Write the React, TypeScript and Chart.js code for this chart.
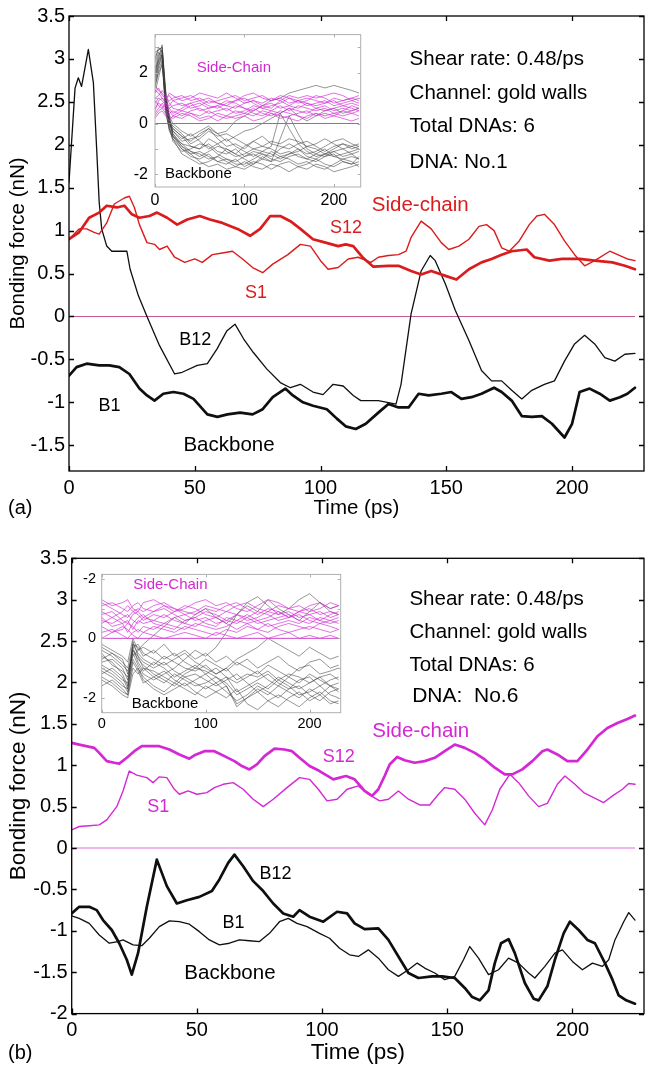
import React, { useEffect, useRef } from "react";
import { Chart, registerables } from "chart.js";
Chart.register(...registerables);

const FONT = "'Liberation Sans', Arial, Helvetica, sans-serif";

// ---------------- Panel (a) main series ----------------
const aS12T = [0,4,8,12,15,19,22,25,28,32,35,39,43,47,52,56,61,67,72,76,80,84,88,92,97,102,107,110,113,117,121,127,131,136,140,144,150,154,159,164,168,172,176,182,185,191,196,203,209,216,221,225];
const aS12V = [0.90,0.98,1.15,1.21,1.29,1.27,1.29,1.19,1.15,1.17,1.21,1.15,1.07,1.13,1.17,1.13,1.09,1.02,0.94,1.02,1.17,1.17,1.11,1.02,0.90,0.86,0.82,0.84,0.82,0.68,0.58,0.59,0.59,0.53,0.49,0.53,0.47,0.43,0.55,0.63,0.67,0.72,0.76,0.78,0.69,0.65,0.67,0.67,0.65,0.63,0.59,0.55];
const aS1T = [0,4,7,10,12,15,18,22,24,26,28,31,34,36,39,42,46,50,53,57,61,65,69,73,77,81,87,92,96,100,103,107,111,115,120,123,127,131,134,136,140,144,148,151,155,159,163,166,169,172,175,179,183,186,189,193,197,201,205,209,215,219,222,225];
const aS1V = [0.90,1.02,1.02,0.98,0.96,1.09,1.31,1.38,1.40,1.27,1.07,0.86,0.84,0.78,0.82,0.69,0.63,0.67,0.63,0.72,0.74,0.76,0.67,0.57,0.51,0.61,0.72,0.84,0.82,0.65,0.55,0.57,0.67,0.69,0.63,0.69,0.71,0.72,0.76,0.92,1.11,1.02,0.86,0.78,0.82,0.90,1.05,1.07,1.00,0.80,0.76,0.88,1.07,1.17,1.19,1.07,0.88,0.72,0.59,0.65,0.76,0.71,0.67,0.65];
const aB12T = [0,2.4,3.7,5,7.7,9.7,11,12,13,15,17,23,24.3,27.6,31,36,42,45,51,55,58.8,62.7,66,69.4,73.3,78.6,84,88,92,97,101,105,109,113,116,123,130,132,136,140,143.6,145.6,149.6,153.6,159,164,168,172,176,180,184,189,193,197,201,205,209,213,217,221,225];
const aB12V = [1.56,2.66,2.78,2.68,3.11,2.72,1.95,1.33,1.02,0.82,0.76,0.76,0.55,0.24,0.0,-0.34,-0.67,-0.65,-0.57,-0.55,-0.38,-0.17,-0.09,-0.26,-0.42,-0.61,-0.77,-0.83,-0.79,-0.88,-0.91,-0.79,-0.81,-0.92,-0.98,-0.98,-1.02,-0.79,0.03,0.53,0.71,0.65,0.38,0.07,-0.28,-0.63,-0.75,-0.75,-0.86,-0.96,-0.86,-0.79,-0.75,-0.52,-0.32,-0.22,-0.32,-0.48,-0.52,-0.44,-0.43];
const aB1T = [0,3,7,12,16,20,24,28,31,34,37.5,41.5,45.5,49.5,55,59,63,68,73,77,81,86,89,93,97,102.5,106.5,110,114,118,123,127,131,135,139,143,148,152,156,160,164,169,172,176,180,184,188,192,197,200,203,207,211,215,219,222,225];
const aB1V = [-0.69,-0.59,-0.55,-0.57,-0.57,-0.59,-0.67,-0.84,-0.92,-0.98,-0.90,-0.88,-0.90,-0.96,-1.14,-1.17,-1.14,-1.12,-1.14,-1.08,-0.94,-0.84,-0.92,-1.00,-1.04,-1.08,-1.19,-1.28,-1.31,-1.25,-1.12,-1.02,-1.06,-1.06,-0.90,-0.92,-0.90,-0.88,-0.96,-0.94,-0.90,-0.83,-0.88,-0.98,-1.16,-1.17,-1.16,-1.25,-1.41,-1.25,-0.88,-0.84,-0.90,-0.98,-0.94,-0.90,-0.83];

// ---------------- Panel (b) main series ----------------
const bS12T = [0,3,9,11,14,17,19,22,25,28,31,35,39,43,47,49,53,57,61,65,68,71,74,77,81,85,88,91,95,99,104.5,109.5,113,117,120,122.5,125,127,130,133,137,141,145,149,153,157,161,165,169,173,176,180,184,188,190,194,198,202,206,210,214,218,222,225];
const bS12V = [1.27,1.25,1.21,1.15,1.05,1.03,1.02,1.09,1.17,1.23,1.23,1.23,1.19,1.13,1.08,1.12,1.17,1.17,1.11,1.05,0.99,0.95,1.01,1.11,1.20,1.19,1.17,1.09,0.99,0.93,0.83,0.87,0.83,0.69,0.63,0.71,0.87,1.01,1.10,1.06,1.03,1.05,1.09,1.17,1.25,1.21,1.15,1.07,0.97,0.89,0.89,0.95,1.05,1.17,1.19,1.13,1.05,1.05,1.19,1.35,1.45,1.51,1.56,1.60];
const bS1T = [0,3,7,11,14,18,20.5,23,26,30,32.5,35,38,41,43,46.5,50,54,57,60.5,64.5,68.5,72.5,76.5,80.5,86,91,95,98.5,102,106,110,114.5,118.5,123,126.5,130.5,134.5,139,143,146.5,149,153,157,161,165,168,171,175,178.5,182.5,186.5,190,194,197,201,204.5,208.5,212.5,216,220,222.5,225];
const bS1V = [0.22,0.26,0.27,0.28,0.34,0.50,0.69,0.93,0.88,0.85,0.79,0.86,0.85,0.71,0.65,0.69,0.65,0.67,0.73,0.77,0.79,0.71,0.59,0.50,0.59,0.73,0.85,0.83,0.71,0.57,0.59,0.71,0.75,0.65,0.57,0.59,0.69,0.59,0.52,0.52,0.65,0.73,0.71,0.59,0.42,0.28,0.46,0.71,0.89,0.79,0.63,0.50,0.54,0.77,0.87,0.77,0.67,0.61,0.55,0.63,0.71,0.78,0.77];
const bB12T = [0,3,7,10,12.5,16,19,22,24,26.5,30,34,38,42,46,51,56,59,62.5,65,68.5,72.5,76.5,80.5,84.5,88.5,91,95,100.5,106,110,113,117,122.5,126.5,130.5,134.5,138.5,144,148,153,157,160,163,166.5,169,171.5,174.5,177,181,184.5,186.5,190,193,196.5,199,202.5,206,209,213,216,218.5,221.5,225];
const bB12V = [-0.79,-0.71,-0.71,-0.75,-0.87,-0.99,-1.15,-1.35,-1.53,-1.27,-0.71,-0.14,-0.46,-0.67,-0.63,-0.59,-0.52,-0.38,-0.18,-0.08,-0.22,-0.40,-0.52,-0.67,-0.79,-0.83,-0.75,-0.83,-0.89,-0.77,-0.79,-0.91,-0.98,-0.97,-1.11,-1.31,-1.51,-1.57,-1.55,-1.55,-1.57,-1.69,-1.80,-1.84,-1.72,-1.39,-1.15,-1.10,-1.27,-1.63,-1.82,-1.84,-1.67,-1.35,-1.03,-0.89,-0.99,-1.11,-1.15,-1.39,-1.59,-1.78,-1.84,-1.88];
const bB1T = [0,3,7,11,15,18.5,20.5,24.5,28,31,35,39,43,47,51,55,59,63,67,71,75,79,83,86.5,90,94,99,103,107,111,114.5,118.5,122.5,126.5,130.5,134.5,138,141,145,149,153,156.5,159,162.5,166.5,170.5,174.5,178.5,182.5,185,189,193,196,200,204,208,212,214.5,217,220.5,222.5,225];
const bB1V = [-0.82,-0.85,-0.91,-1.05,-1.15,-1.13,-1.11,-1.17,-1.18,-1.09,-0.95,-0.88,-0.89,-0.92,-1.01,-1.11,-1.17,-1.15,-1.11,-1.12,-1.13,-1.03,-0.89,-0.85,-0.91,-0.95,-1.03,-1.09,-1.21,-1.29,-1.31,-1.23,-1.33,-1.47,-1.55,-1.47,-1.39,-1.45,-1.51,-1.59,-1.55,-1.35,-1.19,-1.33,-1.53,-1.47,-1.33,-1.39,-1.51,-1.57,-1.43,-1.27,-1.23,-1.37,-1.47,-1.39,-1.43,-1.35,-1.11,-0.89,-0.78,-0.87];

const zeroT = [0, 225];
const zeroV = [0, 0];

// ---------------- Axes ticks ----------------
const mainXTicks = [0, 50, 100, 150, 200];
const aYTicks = [-1.5, -1, -0.5, 0, 0.5, 1, 1.5, 2, 2.5, 3, 3.5];
const bYTicks = [-2, -1.5, -1, -0.5, 0, 0.5, 1, 1.5, 2, 2.5, 3, 3.5];
const insetXTicks = [0, 100, 200];
const insetAYTicks = [-2, 0, 2];
const insetAYLabels = ["-2", "0", "2"];
const insetAYMarks = [-2, -1, 0, 1, 2, 3];
const insetBYTicks = [-2, 0, 2];
const insetBYLabels = ["-2", "0", "-2"];
const insetBYMarks = [-2, -1, 0, 1, 2];

// ---------------- Inset (a) trajectories ----------------
const insetAT = [0,4,8,12,16,20,30,40,50,60,70,80,90,100,110,120,130,140,150,160,170,180,190,200,210,220,228];
const insetABackbone = [
  [2.0,2.6,3.1,0.8,0.0,-0.4,-0.8,-0.9,-1.0,-0.8,-1.1,-1.2,-1.0,-1.3,-1.2,-1.4,-1.1,-1.3,-1.2,-1.0,-1.3,-1.4,-1.2,-1.1,-1.3,-1.2,-1.4],
  [1.6,2.2,2.8,1.0,0.2,-0.2,-0.5,-0.7,-0.4,-0.2,-0.6,-0.9,-0.8,-1.0,-0.7,-0.5,-0.8,-0.9,-1.0,-0.8,-0.7,-0.9,-1.1,-0.9,-0.8,-1.0,-0.9],
  [2.4,2.8,2.6,0.5,-0.3,-0.6,-1.0,-1.3,-1.4,-1.2,-1.5,-1.6,-1.4,-1.7,-1.5,-1.6,-1.8,-1.6,-1.5,-1.7,-1.6,-1.4,-1.6,-1.7,-1.5,-1.6,-1.5],
  [1.2,1.8,2.4,0.9,0.3,0.0,-0.3,-0.5,-0.3,-0.1,-0.4,-0.3,0.1,0.3,0.5,0.7,0.9,1.0,1.2,1.3,1.4,1.5,1.4,1.5,1.4,1.3,1.2],
  [2.8,2.9,3.0,1.2,0.1,-0.5,-0.9,-1.1,-1.2,-1.4,-1.3,-1.0,-1.2,-1.4,-1.6,-1.3,-1.5,-0.6,0.3,-0.4,-1.0,-1.2,-1.3,-1.1,-1.0,-1.2,-1.1],
  [1.9,2.5,2.7,0.6,-0.1,-0.7,-1.1,-1.0,-0.8,-0.9,-1.2,-1.4,-1.5,-1.3,-1.1,-1.2,-1.3,-1.0,-0.8,-1.0,-1.2,-1.1,-0.9,-0.7,-0.6,-0.8,-0.9],
  [1.4,2.1,2.5,0.7,0.0,-0.3,-0.6,-0.4,-0.7,-1.0,-0.8,-0.6,-0.9,-1.1,-1.3,-1.1,-0.9,0.4,-0.2,-0.8,-1.1,-1.3,-1.2,-1.0,-0.8,-0.9,-1.0],
  [2.2,2.7,2.9,1.1,0.2,-0.4,-0.9,-1.2,-1.5,-1.7,-1.6,-1.8,-1.7,-1.5,-1.7,-1.8,-1.6,-1.7,-1.9,-1.7,-1.8,-1.6,-1.7,-1.9,-1.8,-1.7,-1.6],
  [1.7,2.3,2.6,0.4,-0.2,-0.5,-0.8,-1.1,-1.3,-1.1,-0.9,-1.0,-1.2,-0.9,-0.7,-0.9,-1.0,-1.2,-1.1,-1.3,-1.4,-1.2,-1.0,-1.3,-1.2,-1.1,-1.0],
  [2.5,3.0,2.8,0.9,0.1,-0.3,-0.7,-0.6,-0.5,-0.2,-0.4,-0.7,-0.5,-0.3,-0.2,0.0,0.2,0.4,0.6,0.3,0.1,0.3,0.5,0.6,0.4,0.5,0.6],
  [1.5,2.0,2.3,0.6,-0.2,-0.6,-1.2,-1.4,-1.6,-1.5,-1.3,-1.5,-1.7,-1.8,-1.6,-1.4,-1.5,-1.3,-1.4,-1.6,-1.5,-1.7,-1.8,-1.6,-1.4,-1.5,-1.7],
  [2.1,2.5,2.9,1.0,0.0,-0.2,-0.5,-0.9,-1.0,-0.6,-0.8,-1.1,-1.3,-1.2,-1.0,-1.1,-1.2,-1.4,-1.2,-1.1,-0.9,-1.0,-1.2,-1.3,-1.4,-1.3,-1.4],
  [1.8,2.4,2.7,0.7,0.1,-0.1,-0.4,-0.8,-0.6,-0.3,-0.5,-0.4,-0.6,-0.8,-1.0,-0.9,-0.7,-0.8,-0.6,-0.7,-0.9,-0.8,-0.6,-0.8,-1.0,-0.9,-0.8],
  [2.6,2.9,3.0,1.3,0.3,-0.5,-1.0,-1.2,-1.1,-1.3,-1.5,-1.4,-1.6,-1.6,-1.4,-1.2,-1.4,-1.5,-1.3,-1.2,-1.4,-1.5,-1.3,-1.2,-1.5,-1.6,-1.3],
];
const insetASideChain = [
  [0.8,1.0,0.9,0.7,0.6,0.7,0.8,0.6,0.7,0.9,0.8,0.7,0.6,0.8,0.9,0.7,0.8,0.6,0.7,0.9,0.8,0.7,0.8,0.9,0.7,0.8,0.7],
  [0.3,0.5,0.6,0.4,0.3,0.2,0.4,0.3,0.1,0.2,0.4,0.3,0.2,0.3,0.1,0.2,0.4,0.3,0.2,0.1,0.3,0.4,0.2,0.3,0.2,0.1,0.2],
  [1.2,1.4,1.1,1.0,0.9,1.0,1.1,0.9,1.0,0.8,0.9,1.0,1.1,0.9,1.0,1.1,0.9,1.0,0.8,0.9,1.0,0.9,0.8,1.0,0.9,1.0,0.9],
  [0.6,0.8,0.7,0.5,0.4,0.5,0.3,0.5,0.6,0.4,0.5,0.6,0.4,0.5,0.7,0.6,0.5,0.4,0.6,0.5,0.4,0.6,0.7,0.5,0.6,0.5,0.6],
  [1.5,1.3,1.2,1.0,1.1,0.9,0.7,0.8,0.9,1.0,0.8,0.7,0.9,1.0,0.8,0.6,0.7,0.8,1.0,0.9,0.7,0.8,0.9,0.7,0.8,0.9,0.8],
  [0.4,0.6,0.8,0.6,0.5,0.3,0.2,0.4,0.3,0.5,0.3,0.2,0.3,0.4,0.3,0.5,0.4,0.2,0.3,0.4,0.5,0.3,0.4,0.3,0.5,0.4,0.3],
  [1.0,1.1,1.3,1.1,0.8,0.6,0.5,0.7,0.8,0.6,0.7,0.9,0.8,0.6,0.5,0.7,0.6,0.9,0.7,0.6,0.8,0.6,0.5,0.6,0.7,0.6,0.5],
  [0.2,0.4,0.5,0.3,0.1,0.3,0.5,0.4,0.2,0.3,0.1,0.3,0.5,0.4,0.6,0.4,0.3,0.5,0.4,0.3,0.2,0.4,0.3,0.4,0.3,0.4,0.5],
  [0.9,0.7,0.6,0.8,0.7,0.9,1.0,1.1,0.9,0.7,0.6,0.8,0.9,1.1,1.2,1.0,0.9,1.1,1.0,0.8,0.9,1.1,1.0,0.8,0.9,1.0,1.1],
  [0.5,0.9,1.0,0.8,0.6,0.4,0.6,0.8,0.5,0.6,0.7,0.5,0.7,0.6,0.4,0.3,0.5,0.7,0.5,0.7,0.6,0.5,0.6,0.4,0.5,0.7,0.6],
  [1.3,1.2,1.0,0.9,1.2,1.1,0.9,1.0,1.2,1.1,1.0,1.2,1.0,0.8,0.9,0.8,1.0,0.9,1.1,1.0,1.1,1.0,1.1,1.2,1.1,0.9,1.0],
];

// ---------------- Inset (b) trajectories ----------------
const insetBT = [0,10,20,25,30,35,40,50,60,70,80,90,100,110,120,130,140,150,160,170,180,190,200,210,220,228];
const insetBBackbone = [
  [-0.6,-0.8,-1.2,-1.6,-0.2,-0.5,-0.7,-0.9,-0.6,-0.8,-1.0,-1.1,-0.9,-1.2,-1.0,-1.4,-1.2,-1.3,-1.1,-1.4,-1.2,-1.3,-1.5,-1.3,-1.2,-1.4],
  [-1.0,-1.2,-1.5,-1.8,-0.1,-0.6,-1.0,-1.3,-1.5,-1.2,-1.4,-1.6,-1.5,-1.3,-1.6,-2.3,-2.0,-1.7,-1.9,-1.6,-1.8,-2.0,-1.7,-1.9,-1.6,-1.8],
  [-0.4,-0.6,-0.9,-1.1,-0.6,-0.4,-0.3,-0.5,-0.2,-0.6,-0.4,-0.7,-0.5,-0.8,-0.6,-0.9,-0.7,-1.0,-0.8,-0.6,-0.9,-1.1,-0.8,-0.7,-1.0,-0.9],
  [-1.4,-1.6,-1.9,-2.0,-1.2,-1.0,-1.3,-1.6,-1.8,-1.5,-1.7,-1.9,-1.6,-1.8,-2.0,-1.7,-2.2,-2.4,-2.1,-1.9,-2.1,-2.3,-2.0,-1.8,-2.1,-2.2],
  [-0.8,-0.7,-1.0,-1.4,-0.3,-0.8,-1.1,-0.8,-1.0,-1.3,-1.1,-0.9,-1.2,-1.0,-1.3,-1.5,-1.3,-1.1,-1.4,-1.6,-1.3,-1.5,-1.2,-1.4,-1.6,-1.5],
  [-1.2,-1.0,-1.3,-1.7,-0.5,-0.9,-1.2,-1.4,-1.2,-1.0,-0.7,-0.4,-0.6,-0.3,0.2,0.8,1.2,1.4,1.1,0.8,1.0,1.3,1.5,1.2,1.0,1.1],
  [-0.5,-0.9,-1.1,-1.3,-0.4,-0.7,-0.9,-1.2,-1.4,-1.6,-1.3,-1.5,-1.7,-1.5,-1.8,-2.1,-1.9,-1.6,-1.8,-2.0,-1.7,-1.6,-1.9,-2.1,-1.8,-1.7],
  [-1.6,-1.4,-1.7,-1.9,-0.8,-1.1,-1.5,-1.3,-1.1,-1.4,-1.6,-1.4,-1.2,-1.5,-1.3,-1.8,-1.6,-1.4,-1.2,-1.5,-1.7,-1.4,-1.3,-1.6,-1.4,-1.3],
  [-0.3,-0.5,-0.8,-1.0,-0.2,-0.3,-0.6,-0.4,-0.7,-0.5,-0.8,-1.0,-0.7,-0.9,-1.1,-0.8,-1.0,-1.2,-0.9,-1.1,-1.3,-1.0,-0.9,-1.2,-1.1,-1.0],
  [-0.9,-1.1,-1.4,-1.5,-0.4,-0.6,-0.8,-1.0,-0.8,-1.1,-1.3,-1.2,-1.4,-1.6,-1.4,-1.2,-1.5,-1.8,-1.6,-1.3,-1.5,-1.7,-1.5,-1.3,-1.6,-1.7],
  [-1.1,-1.3,-1.6,-1.7,-0.7,-1.0,-1.4,-1.7,-1.9,-1.7,-1.5,-1.8,-2.0,-1.8,-1.6,-2.2,-2.0,-1.8,-2.1,-2.3,-2.0,-1.8,-2.1,-1.9,-2.2,-2.1],
  [-0.7,-0.5,-0.7,-1.2,-0.3,-0.2,-0.5,-0.7,-0.9,-0.7,-0.5,-0.8,-1.0,-1.2,-1.0,-0.7,-0.5,-0.3,0.0,-0.2,-0.4,-0.6,-0.3,-0.5,-0.7,-0.6],
  [-1.3,-1.5,-1.8,-1.9,-1.0,-1.2,-1.0,-1.1,-1.3,-1.5,-1.2,-1.0,-1.1,-1.3,-1.5,-1.9,-1.7,-1.5,-1.7,-1.4,-1.6,-1.9,-1.8,-1.6,-1.9,-2.0],
  [-0.2,-0.4,-0.6,-0.8,0.0,-0.4,-0.2,0.1,0.4,0.7,0.5,0.8,1.0,0.7,0.5,0.8,1.1,0.9,1.3,1.0,0.8,0.6,0.9,1.2,0.9,0.8],
];
const insetBSideChain = [
  [1.1,1.2,1.0,0.9,1.1,1.2,1.0,0.9,1.1,1.0,0.8,0.9,1.1,1.0,0.9,1.1,1.2,1.0,0.9,1.1,1.0,0.9,1.1,1.2,1.0,1.1],
  [0.6,0.5,0.7,0.8,0.6,0.5,0.7,0.6,0.5,0.7,0.8,0.6,0.7,0.5,0.6,0.8,0.7,0.5,0.6,0.7,0.8,0.6,0.5,0.7,0.6,0.7],
  [0.2,0.3,0.1,0.0,0.2,0.3,0.2,0.1,0.0,0.1,0.2,0.1,0.0,0.2,0.1,0.0,0.1,0.2,0.0,0.1,0.2,0.0,0.1,0.0,0.1,0.0],
  [1.3,1.1,1.2,1.3,1.0,0.9,1.2,1.3,1.1,0.9,1.0,1.2,1.3,1.1,1.2,1.0,0.9,1.1,1.3,1.2,1.0,1.1,0.9,1.0,1.2,1.1],
  [0.8,0.9,0.6,0.5,0.8,0.9,0.7,0.9,1.0,0.8,0.6,0.7,0.9,0.8,0.6,0.5,0.7,0.9,0.8,0.6,0.7,0.9,0.8,0.9,0.7,0.8],
  [0.4,0.2,0.3,0.5,0.4,0.2,0.4,0.3,0.5,0.4,0.3,0.5,0.4,0.3,0.4,0.6,0.5,0.3,0.2,0.4,0.5,0.4,0.3,0.5,0.4,0.3],
  [0.9,0.7,0.9,1.1,0.9,0.8,0.6,0.8,0.7,0.9,1.1,1.0,0.8,0.7,0.9,0.8,0.6,0.7,0.9,0.8,0.9,0.7,0.8,0.6,0.8,0.9],
  [0.0,0.2,0.4,0.3,0.1,0.0,0.2,0.4,0.3,0.2,0.4,0.3,0.2,0.1,0.3,0.2,0.4,0.3,0.5,0.3,0.2,0.3,0.4,0.3,0.2,0.3],
  [1.2,1.0,0.8,0.7,0.9,1.0,0.9,1.1,1.2,1.0,0.9,0.8,1.0,0.9,1.1,1.2,1.0,0.8,1.0,0.9,0.7,0.9,1.0,0.8,0.9,0.8],
  [0.5,0.7,0.5,0.6,0.3,0.6,0.5,0.6,0.8,0.6,0.5,0.4,0.6,0.7,0.5,0.3,0.5,0.6,0.4,0.5,0.6,0.5,0.7,0.6,0.5,0.6],
  [0.7,0.4,0.5,0.2,0.5,0.7,0.8,0.5,0.4,0.3,0.6,0.7,0.5,0.4,0.7,0.6,0.8,0.6,0.7,0.9,0.7,0.8,0.6,0.5,0.6,0.5],
];
const insetZeroT = [0, 228];

// ---------------- helpers ----------------
type Ann = { t: number; v: number; text: string; color: string; size: number };

const pts = (t: number[], v: number[]) => t.map((x, i) => ({ x, y: v[i] }));

function framePlugin(o: {
  color: string; width: number; tick: number;
  xMarks: number[]; yMarks: number[]; anns: Ann[];
  letter?: { text: string; x: number; y: number; size: number };
  fill?: boolean;
}) {
  return {
    id: "frame",
    beforeDatasetsDraw(chart: any) {
      if (!o.fill) return;
      const { ctx, chartArea: a } = chart;
      ctx.save();
      ctx.fillStyle = "#fff";
      ctx.fillRect(a.left, a.top, a.right - a.left, a.bottom - a.top);
      ctx.restore();
    },
    afterDraw(chart: any) {
      const { ctx, chartArea: a, scales } = chart;
      const xs = scales.x, ys = scales.y;
      ctx.save();
      ctx.strokeStyle = o.color;
      ctx.lineWidth = o.width;
      ctx.strokeRect(a.left, a.top, a.right - a.left, a.bottom - a.top);
      ctx.beginPath();
      for (const t of o.xMarks) {
        const px = Math.round(xs.getPixelForValue(t)) + 0.5;
        ctx.moveTo(px, a.bottom); ctx.lineTo(px, a.bottom - o.tick);
        ctx.moveTo(px, a.top); ctx.lineTo(px, a.top + o.tick);
      }
      for (const v of o.yMarks) {
        const py = Math.round(ys.getPixelForValue(v)) + 0.5;
        ctx.moveTo(a.left, py); ctx.lineTo(a.left + o.tick, py);
        ctx.moveTo(a.right, py); ctx.lineTo(a.right - o.tick, py);
      }
      ctx.stroke();
      ctx.textAlign = "left";
      ctx.textBaseline = "middle";
      for (const an of o.anns) {
        ctx.font = `${an.size}px ${FONT}`;
        ctx.fillStyle = an.color;
        ctx.fillText(an.text, xs.getPixelForValue(an.t), ys.getPixelForValue(an.v));
      }
      if (o.letter) {
        ctx.font = `${o.letter.size}px ${FONT}`;
        ctx.fillStyle = "#000";
        ctx.fillText(o.letter.text, o.letter.x, o.letter.y);
      }
      ctx.restore();
    },
  };
}

type Series = { t: number[]; v: number[]; color: string; width: number };

function mainConfig(o: {
  W: number; H: number; left: number; top: number; right: number; bottom: number;
  yMin: number; yMax: number; xMax: number; yTicks: number[];
  series: Series[]; zeroColor: string; titleSize: number; yTitlePad: number; xTitlePad: number;
  anns: Ann[]; letter: { text: string; x: number; y: number; size: number };
}) {
  // Chart.js paints dataset 0 last (on top): list from top to bottom.
  const datasets: any[] = [
    ...o.series.map((s) => ({
      data: pts(s.t, s.v), borderColor: s.color, borderWidth: s.width, pointRadius: 0,
      borderJoinStyle: "round", borderCapStyle: "round", tension: 0,
    })),
    { data: pts(zeroT, zeroV), borderColor: o.zeroColor, borderWidth: 1.1, pointRadius: 0 },
  ];
  return {
    type: "line",
    data: { datasets },
    options: {
      animation: false, responsive: false, devicePixelRatio: 1,
      layout: { padding: { left: 0, top: o.top, right: o.W - o.right, bottom: 0 } },
      plugins: { legend: { display: false }, tooltip: { enabled: false } },
      scales: {
        x: {
          type: "linear", min: 0, max: o.xMax,
          grid: { display: false, drawTicks: false }, border: { display: false },
          afterBuildTicks: (s: any) => { s.ticks = mainXTicks.map((value) => ({ value })); },
          afterFit: (s: any) => { s.height = o.H - o.bottom; },
          ticks: { color: "#000", font: { family: FONT, size: 20 }, padding: 5, autoSkip: false, maxRotation: 0, callback: (v: any) => String(v) },
          title: { display: true, text: "Time (ps)", color: "#000", font: { family: FONT, size: o.titleSize }, padding: { top: 0, bottom: o.xTitlePad } },
        },
        y: {
          type: "linear", min: o.yMin, max: o.yMax,
          grid: { display: false, drawTicks: false }, border: { display: false },
          afterBuildTicks: (s: any) => { s.ticks = o.yTicks.map((value) => ({ value })); },
          afterFit: (s: any) => { s.width = o.left; },
          ticks: { color: "#000", font: { family: FONT, size: 20 }, padding: 4, autoSkip: false, callback: (v: any) => String(v) },
          title: { display: true, text: "Bonding force (nN)", color: "#000", font: { family: FONT, size: o.titleSize }, padding: { top: o.yTitlePad, bottom: 0 } },
        },
      },
    },
    plugins: [framePlugin({ color: "#000", width: 1.3, tick: 5, xMarks: mainXTicks, yMarks: o.yTicks, anns: o.anns, letter: o.letter })],
  };
}

function insetConfig(o: {
  W: number; H: number; left: number; top: number; right: number; bottom: number;
  yMin: number; yMax: number; yTicks: number[]; yLabels: string[]; yMarks: number[];
  t: number[]; backbone: number[][]; side: number[][]; fontSize: number; yPad: number; xPad: number; anns: Ann[];
}) {
  // top-most first: zero line, side-chain trajectories, then backbone trajectories underneath
  const datasets: any[] = [
    { data: pts(insetZeroT, zeroV), borderColor: "rgb(205,70,205)", borderWidth: 1, pointRadius: 0 },
    ...o.side.map((v) => ({ data: pts(o.t, v), borderColor: "rgba(210,45,210,0.75)", borderWidth: 0.9, pointRadius: 0, borderJoinStyle: "round" })),
    ...o.backbone.map((v) => ({ data: pts(o.t, v), borderColor: "rgba(60,60,60,0.6)", borderWidth: 0.9, pointRadius: 0, borderJoinStyle: "round" })),
  ];
  return {
    type: "line",
    data: { datasets },
    options: {
      animation: false, responsive: false, devicePixelRatio: 1,
      layout: { padding: { left: 0, top: o.top, right: o.W - o.right, bottom: 0 } },
      plugins: { legend: { display: false }, tooltip: { enabled: false } },
      scales: {
        x: {
          type: "linear", min: 0, max: 230,
          grid: { display: false, drawTicks: false }, border: { display: false },
          afterBuildTicks: (s: any) => { s.ticks = insetXTicks.map((value) => ({ value })); },
          afterFit: (s: any) => { s.height = o.H - o.bottom; },
          ticks: { color: "#000", font: { family: FONT, size: o.fontSize }, padding: o.xPad, autoSkip: false, maxRotation: 0, callback: (v: any) => String(v) },
        },
        y: {
          type: "linear", min: o.yMin, max: o.yMax,
          grid: { display: false, drawTicks: false }, border: { display: false },
          afterBuildTicks: (s: any) => { s.ticks = o.yTicks.map((value) => ({ value })); },
          afterFit: (s: any) => { s.width = o.left; },
          ticks: { color: "#000", font: { family: FONT, size: o.fontSize }, padding: o.yPad, autoSkip: false, callback: (_v: any, i: number) => o.yLabels[i] },
        },
      },
    },
    plugins: [framePlugin({ color: "rgb(175,175,175)", width: 1, tick: 3, xMarks: insetXTicks, yMarks: o.yMarks, anns: o.anns, fill: true })],
  };
}

const RED = "rgb(218,28,28)";
const MAG = "rgb(212,40,212)";
const BLK = "rgb(15,15,15)";

export default function App() {
  const refA = useRef<HTMLCanvasElement>(null);
  const refB = useRef<HTMLCanvasElement>(null);
  const refIA = useRef<HTMLCanvasElement>(null);
  const refIB = useRef<HTMLCanvasElement>(null);

  useEffect(() => {
    const charts: Chart[] = [];
    const cfgA: any = mainConfig({
      W: 645, H: 534, left: 69, top: 15, right: 644, bottom: 471,
      yMin: -1.8, yMax: 3.5, xMax: 228.6, yTicks: aYTicks,
      series: [
        { t: aS1T, v: aS1V, color: RED, width: 1.4 },
        { t: aS12T, v: aS12V, color: RED, width: 2.7 },
        { t: aB12T, v: aB12V, color: BLK, width: 1.3 },
        { t: aB1T, v: aB1V, color: BLK, width: 2.7 },
      ],
      zeroColor: "rgb(195,90,150)", titleSize: 20.5, yTitlePad: 5.7, xTitlePad: 13.7,
      anns: [
        { t: 135.4, v: 3.0, text: "Shear rate: 0.48/ps", color: "#000", size: 20.5 },
        { t: 135.4, v: 2.6, text: "Channel: gold walls", color: "#000", size: 20.5 },
        { t: 135.4, v: 2.21, text: "Total DNAs: 6", color: "#000", size: 20.5 },
        { t: 135.4, v: 1.8, text: "DNA: No.1", color: "#000", size: 20.5 },
        { t: 120.4, v: 1.3, text: "Side-chain", color: RED, size: 20.5 },
        { t: 103.8, v: 1.035, text: "S12", color: RED, size: 18 },
        { t: 70, v: 0.27, text: "S1", color: RED, size: 18 },
        { t: 43.8, v: -0.28, text: "B12", color: "#000", size: 18 },
        { t: 11.7, v: -1.04, text: "B1", color: "#000", size: 18 },
        { t: 45.5, v: -1.5, text: "Backbone", color: "#000", size: 20.5 },
      ],
      letter: { text: "(a)", x: 8, y: 508, size: 20 },
    });
    const cfgB: any = mainConfig({
      W: 645, H: 534, left: 71.7, top: 24.3, right: 644, bottom: 479.6,
      yMin: -2, yMax: 3.5, xMax: 228.6, yTicks: bYTicks,
      series: [
        { t: bS1T, v: bS1V, color: MAG, width: 1.4 },
        { t: bS12T, v: bS12V, color: MAG, width: 2.7 },
        { t: bB1T, v: bB1V, color: BLK, width: 1.3 },
        { t: bB12T, v: bB12V, color: BLK, width: 2.7 },
      ],
      zeroColor: "rgb(225,110,225)", titleSize: 22.5, yTitlePad: 5.5, xTitlePad: 1.5,
      anns: [
        { t: 134.9, v: 3.01, text: "Shear rate: 0.48/ps", color: "#000", size: 20.5 },
        { t: 134.9, v: 2.6, text: "Channel: gold walls", color: "#000", size: 20.5 },
        { t: 134.9, v: 2.21, text: "Total DNAs: 6", color: "#000", size: 20.5 },
        { t: 136, v: 1.84, text: "DNA:  No.6", color: "#000", size: 21 },
        { t: 120.1, v: 1.41, text: "Side-chain", color: MAG, size: 20.5 },
        { t: 100.3, v: 1.1, text: "S12", color: MAG, size: 18 },
        { t: 30.2, v: 0.5, text: "S1", color: MAG, size: 18 },
        { t: 75, v: -0.31, text: "B12", color: "#000", size: 18 },
        { t: 60.2, v: -0.9, text: "B1", color: "#000", size: 18 },
        { t: 45, v: -1.51, text: "Backbone", color: "#000", size: 20.5 },
      ],
      letter: { text: "(b)", x: 8, y: 519, size: 20 },
    });
    const cfgIA: any = insetConfig({
      W: 248, H: 198, left: 35, top: 8.7, right: 240.7, bottom: 169,
      yMin: -2.5, yMax: 3.5, yTicks: insetAYTicks, yLabels: insetAYLabels, yMarks: insetAYMarks,
      t: insetAT, backbone: insetABackbone, side: insetASideChain, fontSize: 16, yPad: 7, xPad: 4,
      anns: [
        { t: 46.7, v: 2.2, text: "Side-Chain", color: "rgb(210,40,210)", size: 15 },
        { t: 11.2, v: -1.99, text: "Backbone", color: "#000", size: 15 },
      ],
    });
    const cfgIB: any = insetConfig({
      W: 285, H: 180, left: 36.7, top: 8, right: 275.7, bottom: 152.7,
      yMin: -2.5, yMax: 2.15, yTicks: insetBYTicks, yLabels: insetBYLabels, yMarks: insetBYMarks,
      t: insetBT, backbone: insetBBackbone, side: insetBSideChain, fontSize: 14.5, yPad: 5.7, xPad: 3,
      anns: [
        { t: 30.4, v: 1.79, text: "Side-Chain", color: "rgb(210,40,210)", size: 15 },
        { t: 28.8, v: -2.2, text: "Backbone", color: "#000", size: 15 },
      ],
    });
    if (refA.current) charts.push(new Chart(refA.current, cfgA));
    if (refB.current) charts.push(new Chart(refB.current, cfgB));
    if (refIA.current) charts.push(new Chart(refIA.current, cfgIA));
    if (refIB.current) charts.push(new Chart(refIB.current, cfgIB));
    return () => charts.forEach((c) => c.destroy());
  }, []);

  const abs = (l: number, t: number, w: number, h: number): React.CSSProperties => ({
    position: "absolute", left: l, top: t, width: w, height: h, display: "block",
  });

  return (
    <div style={{ position: "absolute", left: 0, top: 0, width: 645, height: 1068, background: "#fff", overflow: "hidden" }}>
      <canvas ref={refA} width={645} height={534} style={abs(0, 0, 645, 534)} />
      <canvas ref={refB} width={645} height={534} style={abs(0, 534, 645, 534)} />
      <canvas ref={refIA} width={248} height={198} style={abs(120, 18, 248, 198)} />
      <canvas ref={refIB} width={285} height={180} style={abs(65, 560, 285, 180)} />
    </div>
  );
}
